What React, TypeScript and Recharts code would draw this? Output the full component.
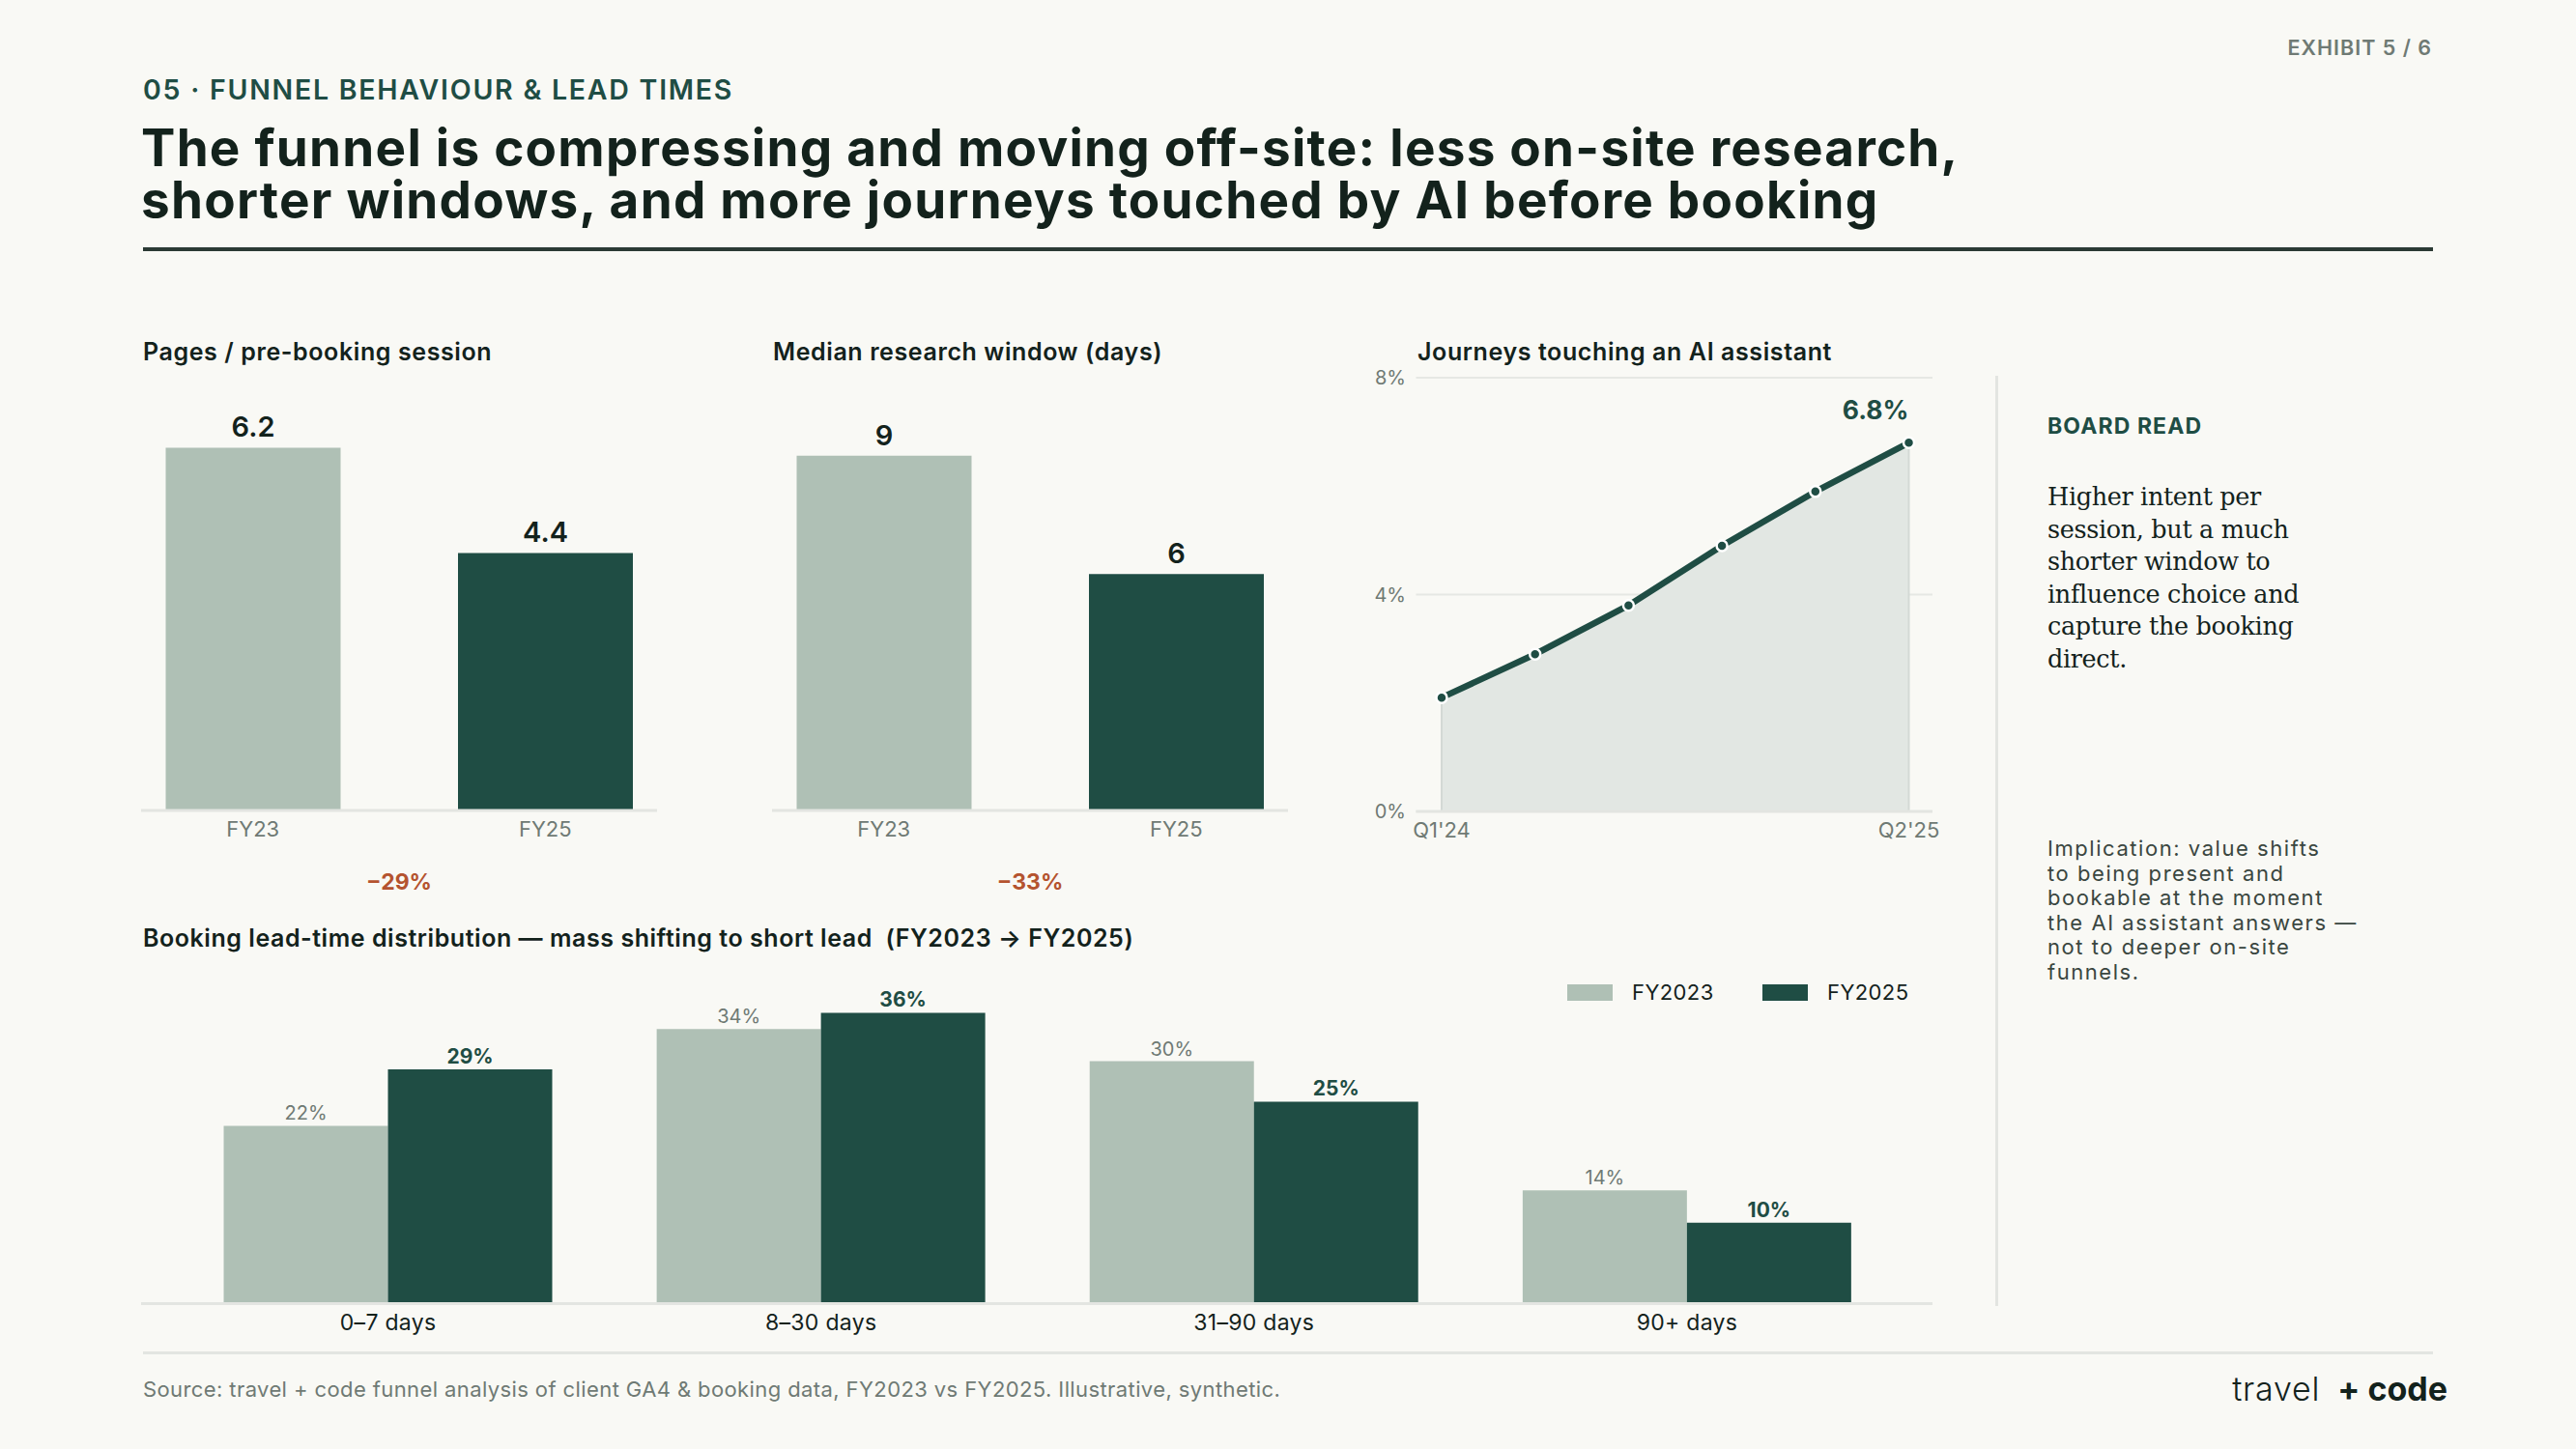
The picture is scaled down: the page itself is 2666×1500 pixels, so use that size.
import React from 'react';
import {
  BarChart, Bar, XAxis, YAxis, LabelList, Cell, ComposedChart, Area, Line,
  CartesianGrid, ReferenceLine,
} from 'recharts';

const BG = '#f9f9f5';
const LIGHT = '#afc0b5';
const DARK = '#1f4d44';
const INK = '#13221c';
const GRAY = '#6f7a74';
const ORANGE = '#b4532f';
const RULE = '#e3e5e1';
const SANS = 'Inter, "Noto Sans", sans-serif';

// ---- data ----
const pagesCats = ['FY23', 'FY25'];
const pagesValues = [6.2, 4.4];
const pagesDelta = '\u221229%';

const windowCats = ['FY23', 'FY25'];
const windowValues = [9, 6];
const windowDelta = '\u221233%';

const aiQuarters = ["Q1'24", "Q2'24", "Q3'24", "Q4'24", "Q1'25", "Q2'25"];
const aiValues = [2.1, 2.9, 3.8, 4.9, 5.9, 6.8];
const aiTicks = [0, 4, 8];

const leadCats = ['0\u20137 days', '8\u201330 days', '31\u201390 days', '90+ days'];
const leadFY2023 = [22, 34, 30, 14];
const leadFY2025 = [29, 36, 25, 10];

const seriesNames = ['FY2023', 'FY2025'];

type TProps = {
  x: number; y: number; size: number; weight?: number; color?: string;
  anchor?: 'start' | 'middle' | 'end'; family?: string; ls?: number; lh?: number; children: React.ReactNode;
};
const T = ({ x, y, size, weight = 400, color = INK, anchor = 'start', family = SANS, ls = 0, lh, children }: TProps) => {
  const h = lh ?? size;
  const style: React.CSSProperties = {
    position: 'absolute', top: y - h * 0.5, fontSize: size, lineHeight: `${h}px`,
    fontWeight: weight, color, fontFamily: family, letterSpacing: ls, whiteSpace: 'nowrap',
  };
  if (anchor === 'start') style.left = x;
  else if (anchor === 'end') style.right = 2666 - x;
  else { style.left = x; style.transform = 'translateX(-50%)'; }
  return <div style={style}>{children}</div>;
};

const MiniBars = ({ cats, values, max, top }: { cats: string[]; values: number[]; max: number; top: number }) => {
  const data = cats.map((c, i) => ({ cat: c, value: values[i] }));
  return (
    <BarChart width={534} height={519} data={data} margin={{ top, right: 0, left: 0, bottom: 0 }} barCategoryGap={0}>
      <YAxis hide domain={[0, max]} />
      <XAxis
        dataKey="cat" tickLine={false} axisLine={{ stroke: RULE, strokeWidth: 3 }}
        tick={{ fontSize: 22, fill: GRAY, fontFamily: SANS }} tickMargin={5} height={60}
        padding={{ left: -35.5, right: -35.5 }} interval={0}
      />
      <Bar dataKey="value" barSize={181} isAnimationActive={false}>
        {data.map((d, i) => <Cell key={d.cat} fill={i === 0 ? LIGHT : DARK} />)}
        <LabelList dataKey="value" position="top" offset={11}
          style={{ fontSize: 29, fontWeight: 600, fill: INK, fontFamily: SANS }} />
      </Bar>
    </BarChart>
  );
};

const aiData = aiQuarters.map((q, i) => ({ q, v: aiValues[i] }));
const lastIdx = aiValues.length - 1;

const AiLabel = (props: any) => {
  const { x, y, index, value } = props;
  if (index !== lastIdx) return null;
  return (
    <text x={x} y={y - 24} textAnchor="end" fontSize={26.5} fontWeight={700} fill={DARK} fontFamily={SANS}>
      {`${value}%`}
    </text>
  );
};

const leadData = leadCats.map((c, i) => ({ cat: c, fy23: leadFY2023[i], fy25: leadFY2025[i] }));

export default function App() {
  return (
    <div style={{ position: 'absolute', left: 0, top: 0, width: 2666, height: 1500, background: BG, overflow: 'hidden', fontFamily: SANS }}>
      {/* header */}
      <T x={2517} y={50} size={21.5} weight={600} color={GRAY} anchor="end" ls={1}>EXHIBIT 5 / 6</T>
      <T x={148} y={93} size={28.5} lh={24} weight={600} color={DARK} ls={1.75}>05 · FUNNEL BEHAVIOUR &amp; LEAD TIMES</T>
      <T x={146} y={153} size={53} lh={48} weight={700} color={INK} ls={1.25}>The funnel is compressing and moving off-site: less on-site research,</T>
      <T x={146} y={207} size={53} lh={48} weight={700} color={INK} ls={1.25}>shorter windows, and more journeys touched by AI before booking</T>
      <div style={{ position: 'absolute', left: 148, top: 256, width: 2370, height: 4, background: '#2b3a34' }} />

      {/* mini chart titles */}
      <T x={148} y={364} size={25} weight={600} ls={0.6}>Pages / pre-booking session</T>
      <T x={800} y={364} size={25} weight={600} ls={0.6}>Median research window (days)</T>
      <T x={1467} y={364} size={25} weight={600} ls={0.6}>Journeys touching an AI assistant</T>

      <div style={{ position: 'absolute', left: 146, top: 380 }}>
        <MiniBars cats={pagesCats} values={pagesValues} max={7} top={35} />
      </div>
      <div style={{ position: 'absolute', left: 799, top: 380 }}>
        <MiniBars cats={windowCats} values={windowValues} max={10} top={51} />
      </div>
      <T x={413} y={913} size={23} weight={700} color={ORANGE} anchor="middle">{pagesDelta}</T>
      <T x={1066} y={913} size={23} weight={700} color={ORANGE} anchor="middle">{windowDelta}</T>

      {/* AI line chart */}
      <div style={{ position: 'absolute', left: 1400, top: 350 }}>
        <ComposedChart width={650} height={550} data={aiData} margin={{ top: 41, right: 50, left: 0, bottom: 0 }}>
          <CartesianGrid vertical={false} stroke="#e6e8e4" strokeWidth={2} />
          <YAxis domain={[0, 8]} ticks={aiTicks} width={65.5} tickLine={false} axisLine={false}
            tickFormatter={(v: number) => `${v}%`} tick={{ fontSize: 20, fill: GRAY, fontFamily: SANS }} tickMargin={4.5} />
          <XAxis dataKey="q" ticks={[aiQuarters[0], aiQuarters[lastIdx]]} interval={0} tickLine={false}
            axisLine={{ stroke: RULE, strokeWidth: 3 }} height={60} tickMargin={5}
            padding={{ left: 26.5, right: 24.5 }} tick={{ fontSize: 22, fill: GRAY, fontFamily: SANS }} />
          <Area dataKey="v" type="linear" fill="#e2e7e3" fillOpacity={1} stroke="none" isAnimationActive={false} />
          <ReferenceLine segment={[{ x: aiQuarters[0], y: 0 }, { x: aiQuarters[0], y: aiValues[0] }]} stroke="#d3d9d5" strokeWidth={2} />
          <ReferenceLine segment={[{ x: aiQuarters[lastIdx], y: 0 }, { x: aiQuarters[lastIdx], y: aiValues[lastIdx] }]} stroke="#d3d9d5" strokeWidth={2} />
          <Line dataKey="v" type="linear" stroke={DARK} strokeWidth={6.5} isAnimationActive={false}
            dot={{ r: 5.5, fill: DARK, stroke: '#ffffff', strokeWidth: 2.5 }}>
            <LabelList dataKey="v" content={AiLabel} />
          </Line>
        </ComposedChart>
      </div>

      {/* right panel */}
      <div style={{ position: 'absolute', left: 2065, top: 389, width: 3, height: 963, background: RULE }} />
      <T x={2119} y={441} size={23} weight={700} color={DARK} ls={1.1}>BOARD READ</T>
      <div style={{ position: 'absolute', left: 2119, top: 498, fontFamily: '"DejaVu Serif", serif', fontSize: 25.5, lineHeight: '33.6px', color: INK, letterSpacing: -0.35 }}>
        <div>Higher intent per</div>
        <div>session, but a much</div>
        <div>shorter window to</div>
        <div>influence choice and</div>
        <div>capture the booking</div>
        <div>direct.</div>
      </div>
      <div style={{ position: 'absolute', left: 2119, top: 866, fontFamily: SANS, fontSize: 22, lineHeight: '25.5px', color: '#3a4640', letterSpacing: 1.55 }}>
        <div>Implication: value shifts</div>
        <div>to being present and</div>
        <div>bookable at the moment</div>
        <div>the AI assistant answers —</div>
        <div>not to deeper on-site</div>
        <div>funnels.</div>
      </div>

      {/* lead-time chart */}
      <T x={148} y={971} size={25} weight={600} ls={0.55}>Booking lead-time distribution — mass shifting to short lead&nbsp; (FY2023 → FY2025)</T>
      <div style={{ position: 'absolute', left: 1622, top: 1019, width: 47, height: 17, background: LIGHT }} />
      <T x={1689} y={1027} size={22} weight={400} color={INK} ls={0.4}>{seriesNames[0]}</T>
      <div style={{ position: 'absolute', left: 1824, top: 1019, width: 47, height: 17, background: DARK }} />
      <T x={1891} y={1027} size={22} weight={400} color={INK} ls={0.4}>{seriesNames[1]}</T>

      <div style={{ position: 'absolute', left: 146, top: 985 }}>
        <BarChart width={1854} height={414.4} data={leadData} margin={{ top: 30, right: 0, left: 0, bottom: 0 }} barGap={0}>
          <YAxis hide domain={[0, 40]} />
          <XAxis dataKey="cat" tickLine={false} axisLine={{ stroke: RULE, strokeWidth: 3 }} height={50} tickMargin={5}
            padding={{ left: 31.5, right: 30 }} interval={0} tick={{ fontSize: 23, fill: INK, fontFamily: SANS, letterSpacing: 0.3 }} />
          <Bar dataKey="fy23" name={seriesNames[0]} fill={LIGHT} barSize={170} isAnimationActive={false}>
            <LabelList dataKey="fy23" position="top" offset={6} formatter={(v: any) => `${v}%`}
              style={{ fontSize: 20, fontWeight: 400, fill: GRAY, fontFamily: SANS }} />
          </Bar>
          <Bar dataKey="fy25" name={seriesNames[1]} fill={DARK} barSize={170} isAnimationActive={false}>
            <LabelList dataKey="fy25" position="top" offset={6} formatter={(v: any) => `${v}%`}
              style={{ fontSize: 21, fontWeight: 700, fill: DARK, fontFamily: SANS }} />
          </Bar>
        </BarChart>
      </div>

      {/* footer */}
      <div style={{ position: 'absolute', left: 148, top: 1399, width: 2370, height: 3, background: RULE }} />
      <T x={148} y={1438} size={22} color={GRAY} ls={0.4}>Source: travel + code funnel analysis of client GA4 &amp; booking data, FY2023 vs FY2025. Illustrative, synthetic.</T>
      <div style={{ position: 'absolute', right: 2666 - 2533, top: 1438 - 19, fontSize: 34, lineHeight: '38px', color: INK, fontFamily: SANS, whiteSpace: 'nowrap' }}>
        <span style={{ fontWeight: 300, letterSpacing: 0.8 }}>travel</span>
        <span style={{ fontWeight: 700, marginLeft: 18 }}>+ code</span>
      </div>
    </div>
  );
}
